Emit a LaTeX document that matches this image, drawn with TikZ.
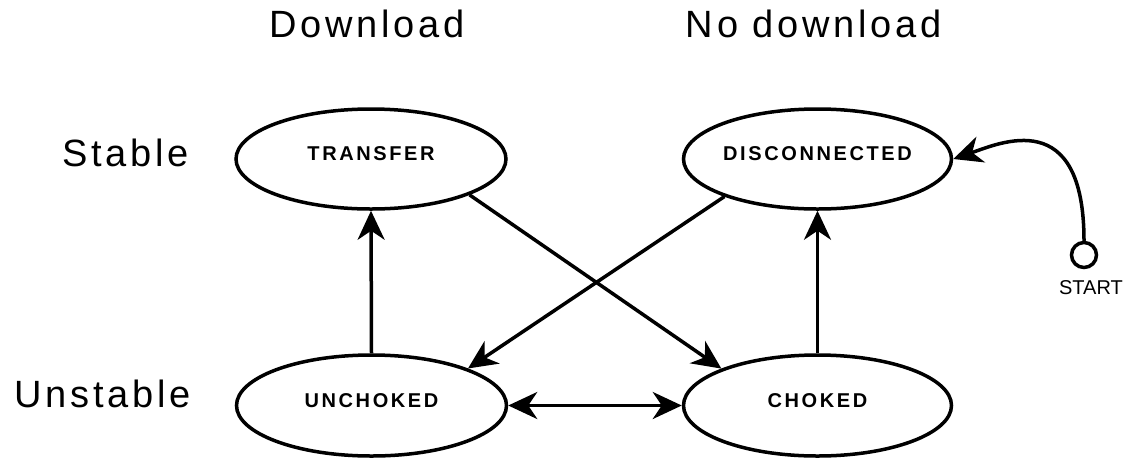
\documentclass[tikz,border=0pt]{standalone}
\usepackage{fontspec}
\setmainfont{Liberation Sans}
\newfontfamily\titlefont[LetterSpace=10]{Liberation Sans}
\newfontfamily\statefont[LetterSpace=13]{Liberation Sans}
\usetikzlibrary{arrows.meta,shapes.geometric}
\begin{document}
\begin{tikzpicture}[x=1pt,y=-1pt,
  state/.style={ellipse,draw,line width=3.5pt,inner sep=0pt,minimum width=270pt,minimum height=100pt,
    font=\statefont\bfseries\fontsize{20pt}{22pt}\selectfont,text depth=10pt},
  heading/.style={inner sep=0pt,font=\titlefont\fontsize{38pt}{40pt}\selectfont},
  tip/.style={},
  arr/.style={line width=3.5pt,-{Stealth[length=29pt,width=27pt,inset=9pt]}},
  darr/.style={line width=3.5pt,{Stealth[length=29pt,width=27pt,inset=9pt]}-{Stealth[length=29pt,width=27pt,inset=9pt]}}]
\useasboundingbox (0,0) rectangle (1136,459);
\node[heading,anchor=base] (hd) at (367,37) {Download};
\node[heading,anchor=base] (hn) at (814,37) {No download};
\node[heading,anchor=base east] (hs) at (189,166) {Stable};
\node[heading,anchor=base east] (hu) at (191,407) {Unstable};
\node[state] (T) at (371,159) {TRANSFER};
\node[state,minimum width=268pt] (D) at (817.5,159) {DISCONNECTED};
\node[state,minimum height=101pt] (U) at (371.5,405.5) {UNCHOKED};
\node[state,minimum width=268pt,minimum height=101pt] (C) at (817.5,405.5) {CHOKED};
\node[circle,draw,line width=3.5pt,minimum size=25pt,inner sep=0pt] (S) at (1084,255) {};
\node[anchor=base,inner sep=0pt,font=\fontsize{20pt}{22pt}\selectfont] (st) at (1091,294) {START};
\draw[arr] (U.north) -- (T.south);
\draw[arr] (C.north) -- (D.south);
\draw[arr] (T.-20) -- (C.159);
\draw[arr] (D.-158) -- (U.21);
\draw[darr] (U.east) -- (C.west);
\draw[arr] (S.north) .. controls (1084,105) and (1000,143) .. (D.east);
\end{tikzpicture}
\end{document}
